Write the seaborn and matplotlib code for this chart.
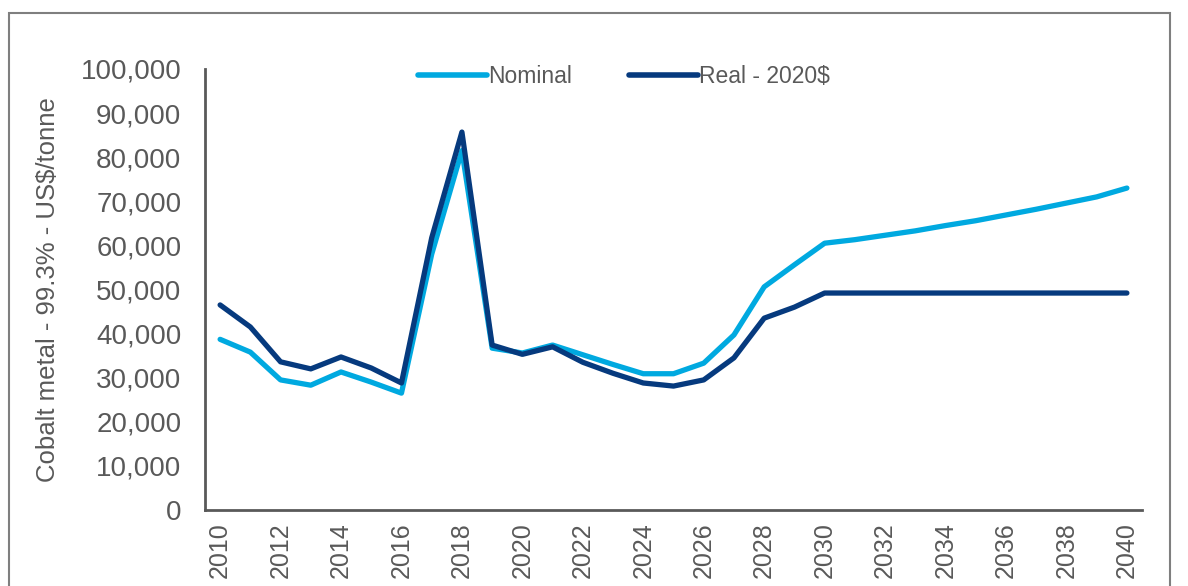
import numpy as np
import pandas as pd
import seaborn as sns
import matplotlib.pyplot as plt
from matplotlib.patches import Rectangle
from matplotlib.ticker import FuncFormatter, MultipleLocator

# --- data (US$/tonne) ---
years = list(range(2010, 2041))

nominal = [38700, 35800, 29500, 28300, 31300, 29000, 26500, 58000, 81500, 36700,
           35600, 37400, 35200, 33000, 30900, 30900, 33300, 39700, 50600, 55600,
           60500, 61300, 62300, 63300, 64500, 65600, 66900, 68200, 69600, 71000,
           73000]

real_2020 = [46500, 41500, 33600, 32000, 34700, 32200, 28800, 61700, 85700, 37400,
             35300, 37000, 33500, 31000, 28800, 28100, 29500, 34500, 43500, 46000,
             49200, 49200, 49200, 49200, 49200, 49200, 49200, 49200, 49200, 49200,
             49200]

series_names = ["Nominal", "Real - 2020$"]
colors = ["#00A9E0", "#063A7E"]

df = pd.DataFrame({
    "year": years * 2,
    "price": nominal + real_2020,
    "series": [series_names[0]] * len(years) + [series_names[1]] * len(years),
})

grey = "#595959"

sns.set_style("white")
plt.rcParams["font.family"] = ["Liberation Sans", "DejaVu Sans"]

fig = plt.figure(figsize=(11.88, 5.86), dpi=100)
ax = fig.add_axes([205 / 1188, 1 - 510 / 586, (1142 - 205) / 1188, (510 - 69) / 586])

sns.lineplot(data=df, x="year", y="price", hue="series", palette=colors,
             linewidth=3.8, ax=ax, solid_capstyle="round")

# axes styling (Excel-like)
ax.set_xlim(2009.5, 2040.5)
ax.set_ylim(0, 100000)
ax.yaxis.set_major_locator(MultipleLocator(10000))
ax.yaxis.set_major_formatter(FuncFormatter(lambda v, p: f"{int(v):,}"))

ax.set_xticks(years[::2])
ax.set_xticklabels([str(y) for y in years[::2]], rotation=90)
ax.set_xticks(np.arange(2009.5, 2041, 1.0), minor=True)
ax.tick_params(axis="x", which="major", length=0, pad=9, labelsize=18, labelcolor=grey)
ax.tick_params(axis="x", which="minor", length=7, width=2, color=grey, direction="out")
ax.tick_params(axis="y", which="major", length=7, width=2, color=grey, direction="out",
               labelsize=20, labelcolor=grey, pad=10)

for side in ["top", "right"]:
    ax.spines[side].set_visible(False)
for side in ["left", "bottom"]:
    ax.spines[side].set_color(grey)
    ax.spines[side].set_linewidth(2)

ax.set_xlabel("")
ax.set_ylabel("Cobalt metal - 99.3% - US$/tonne", fontsize=18.5, color=grey)
ax.yaxis.set_label_coords((60 - 205) / 937, 0.5)

leg = ax.legend(loc="upper center", bbox_to_anchor=(0.447, 1.055), ncol=2, frameon=False,
                fontsize=16.5, handlelength=3.0, handletextpad=0.05, columnspacing=2.5,
                labelcolor=grey)
for line in leg.get_lines():
    line.set_linewidth(4)

# outer frame of the exhibit
fig.patches.append(Rectangle((9 / 1188, -0.05), (1170 - 9) / 1188, 0.978 + 0.05,
                             transform=fig.transFigure, fill=False,
                             edgecolor="#7f7f7f", linewidth=1.5))

fig.savefig("out.png", dpi=100)
